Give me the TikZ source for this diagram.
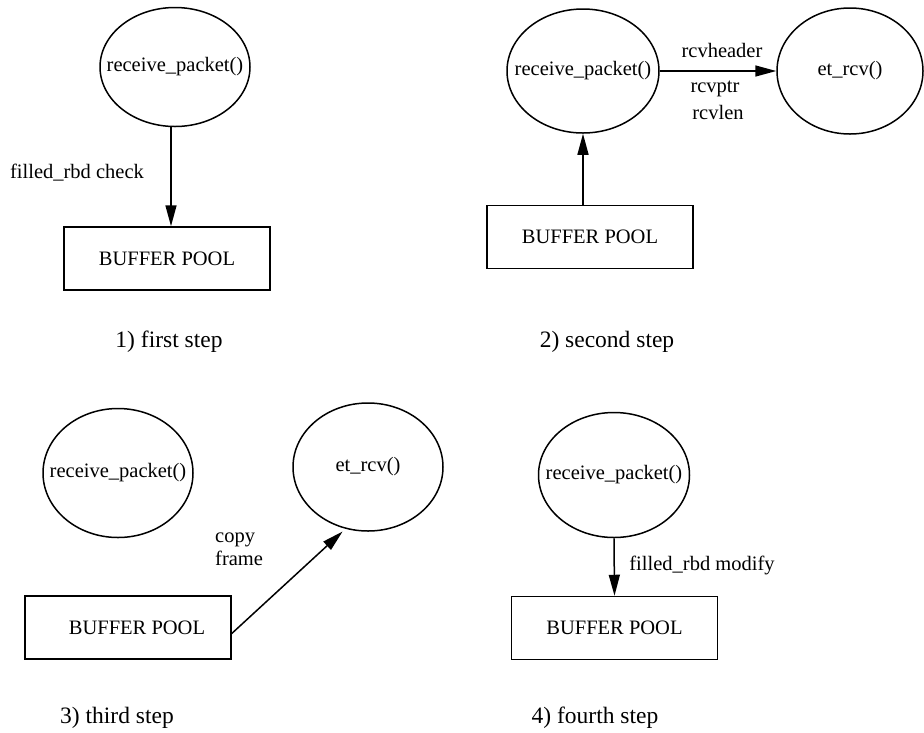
\documentclass[tikz,border=0pt]{standalone}
\usepackage{fontspec}
\setmainfont{Liberation Serif}
\usetikzlibrary{shapes.geometric,arrows.meta}
\newcommand{\lblfont}{\fontsize{20.5}{23}\selectfont}
\newcommand{\capfont}{\fontsize{23.5}{27}\selectfont}
\begin{document}
\begin{tikzpicture}[x=1pt,y=-1pt,
  ell/.style={draw, ellipse, inner sep=0pt, line width=1.5pt, font=\lblfont},
  bx/.style={draw, rectangle, inner sep=0pt, line width=1.5pt, minimum width=206pt, minimum height=63pt, font=\lblfont},
  lbl/.style={inner sep=0pt, font=\lblfont},
  captext/.style={inner sep=0pt, font=\capfont},
  arr/.style={line width=1.5pt, -{Triangle[length=21pt,width=11pt]}}
]
\useasboundingbox (0,0) rectangle (924,732);

% ---- panel 1
\node[ell, minimum width=150pt, minimum height=119pt] (e1) at (175,67) {\makebox[0pt]{receive\_packet()}};
\node[bx] (b1) at (167,258.5) {BUFFER POOL};
\draw[arr] ([xshift=-4pt]e1.south) -- ([xshift=-4pt]e1.south |- b1.north);
\node[lbl] (l1) at (77,173) {filled\_rbd check};
\node[captext] (c1) at (169,342) {1) first step};

% ---- panel 2
\node[ell, minimum width=152pt, minimum height=124pt] (e2) at (583,71) {\makebox[0pt]{receive\_packet()}};
\node[ell, minimum width=146pt, minimum height=126pt] (e3) at (850,71) {\makebox[0pt]{et\_rcv()}};
\draw[arr] (e2.east) -- (e3.west);
\node[lbl] (l2a) at (722,50) {rcvheader};
\node[lbl] (l2b) at (715,89) {rcvptr};
\node[lbl] (l2c) at (718,112) {rcvlen};
\node[bx] (b2) at (590,237) {BUFFER POOL};
\draw[arr] (b2.north -| e2.south) -- (e2.south);
\node[captext] (c2) at (607,342) {2) second step};

% ---- panel 3
\node[ell, minimum width=150pt, minimum height=129pt] (e4) at (118,473) {\makebox[0pt]{receive\_packet()}};
\node[ell, minimum width=150pt, minimum height=128pt] (e5) at (368,467) {\makebox[0pt]{et\_rcv()}};
\node[bx] (b3) at (128,627.5) {\hspace{18pt}BUFFER POOL};
\draw[arr, shorten >=4pt] ([yshift=-6pt]b3.east) -- (e5.250);
\node[lbl, anchor=west, align=left] (l3) at (215,549) {copy\\frame};
\node[captext] (c3) at (117,718) {3) third step};

% ---- panel 4
\node[ell, minimum width=151pt, minimum height=125pt] (e6) at (614,475) {\makebox[0pt]{receive\_packet()}};
\node[bx] (b4) at (614.5,628) {BUFFER POOL};
\draw[arr] (e6.south) -- (b4.north);
\node[lbl] (l4) at (702,565) {filled\_rbd modify};
\node[captext] (c4) at (595,718) {4) fourth step};
\end{tikzpicture}
\end{document}
